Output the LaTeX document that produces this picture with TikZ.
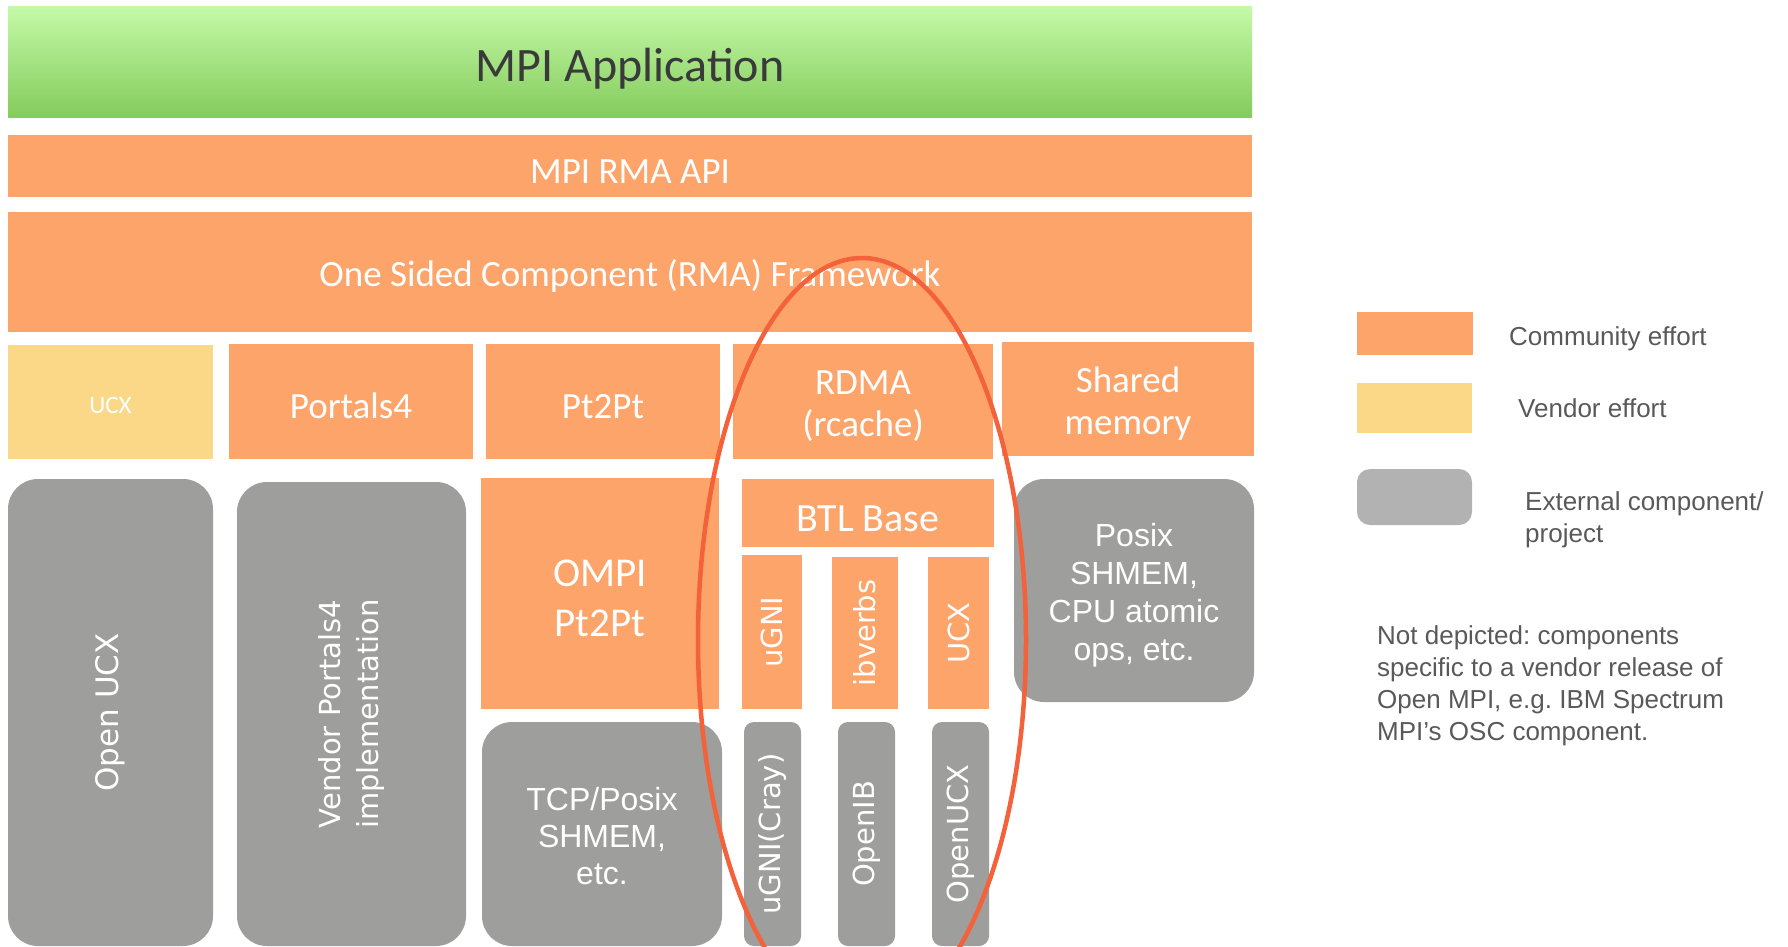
\documentclass[tikz,border=0pt]{standalone}
\usepackage{fontspec}
\newfontfamily\calib{Carlito}
\newfontfamily\verd{DejaVu Sans}
\newfontfamily\arial{Liberation Sans}
\usepackage{xcolor}
\frenchspacing
\definecolor{commorange}{RGB}{253,164,106}
\definecolor{vendyellow}{RGB}{251,216,136}
\definecolor{extgray}{RGB}{158,158,156}
\definecolor{leggray}{RGB}{178,178,178}
\definecolor{apptop}{RGB}{196,250,168}
\definecolor{appbot}{RGB}{132,203,92}
\definecolor{ringred}{RGB}{243,98,58}
\definecolor{legtext}{RGB}{89,89,89}
\definecolor{apptext}{RGB}{58,58,58}

\begin{document}
\begin{tikzpicture}[x=1pt, y=-1pt,
  textdrop/.style={execute at begin node={\rule{0pt}{#1}}},
  comm/.style={rectangle, fill=commorange, text=white, inner sep=0pt, align=center,
    textdrop=0.95em, font=\calib\fontsize{37}{42}\selectfont},
  vend/.style={rectangle, fill=vendyellow, text=white, inner sep=0pt, textdrop=0.96em,
    font=\calib\fontsize{25}{30}\selectfont},
  ext/.style={rectangle, rounded corners=30pt, fill=extgray, text=white, inner sep=0pt,
    align=center, font=\arial\fontsize{32}{37}\selectfont},
  tall/.style={ext, rotate=90, font=\verd\fontsize{29}{38}\selectfont},
  slim/.style={ext, rounded corners=10pt, rotate=90, font=\verd\fontsize{29}{34}\selectfont},
  btl/.style={rectangle, fill=commorange, text=white, inner sep=0pt, rotate=90,
    font=\verd\fontsize{29}{34}\selectfont},
  legtxt/.style={text=legtext, inner sep=0pt, font=\arial\fontsize{26}{32}\selectfont},
  ring/.style={draw=ringred, line width=4.5pt}]
\path[use as bounding box] (0,0) rectangle (1788,946);

% Application and API layers
\node[rectangle, top color=apptop, bottom color=appbot, text=apptext, inner sep=0pt,
  minimum width=1244pt, minimum height=111pt, textdrop=1em,
  font=\calib\fontsize{48}{54}\selectfont] (app) at (630,61.5) {MPI Application};
\node[comm, minimum width=1244pt, minimum height=62pt] (rmaapi) at (630,166) {MPI RMA API};
\node[comm, minimum width=1244pt, minimum height=120pt] (osc) at (630,272)
  {One Sided Component (RMA) Framework};

% OSC components
\node[vend, minimum width=205pt, minimum height=114pt] (ucx) at (110.5,401.5) {UCX};
\node[comm, minimum width=244pt, minimum height=115pt] (portals) at (351,401.5) {Portals4};
\node[comm, minimum width=234pt, minimum height=115pt] (pttopt) at (603,401.5) {Pt2Pt};
\node[comm, minimum width=260pt, minimum height=115pt] (rdma) at (863,401.5)
  {\rule{0pt}{0.9em}RDMA\\(rcache)};
\node[comm, minimum width=252pt, minimum height=114pt] (shmem) at (1128,399)
  {\rule{0pt}{0.95em}Shared\\memory};

% Lower layers
\node[tall, minimum width=467pt, minimum height=205pt, font=\verd\fontsize{31}{38}\selectfont]
  (openucx) at (110.5,712.5) {Open UCX};
\node[tall, minimum width=464pt, minimum height=229pt] (vendor) at (351.5,714)
  {Vendor Portals4\\implementation};
\node[comm, minimum width=238pt, minimum height=231pt, font=\calib\fontsize{41}{50}\selectfont]
  (ompi) at (600,593.5) {\rule{0pt}{0.87em}OMPI\\Pt2Pt};
\node[ext, minimum width=240pt, minimum height=224pt] (tcp) at (602,834)
  {\rule{0pt}{0.87em}TCP/Posix\\SHMEM,\\etc.};
\node[comm, minimum width=252pt, minimum height=68pt, textdrop=0.9em,
  font=\calib\fontsize{40}{46}\selectfont] (btlbase) at (868,513) {BTL Base};
\node[btl, minimum width=154pt, minimum height=60pt] (ugni) at (772,632) {uGNI};
\node[btl, minimum width=152pt, minimum height=66pt] (ibverbs) at (865,633) {ibverbs};
\node[btl, minimum width=152pt, minimum height=61pt] (btlucx) at (958.5,633) {UCX};
\node[slim, minimum width=224pt, minimum height=57pt] (cray) at (772.5,834) {uGNI(Cray)};
\node[slim, minimum width=224pt, minimum height=57pt] (openib) at (866.5,834) {OpenIB};
\node[slim, minimum width=224pt, minimum height=57pt] (ucxlib) at (960.5,834) {OpenUCX};
\node[ext, minimum width=240pt, minimum height=223pt, font=\arial\fontsize{32}{38}\selectfont]
  (posix) at (1134,590.5) {\rule{0pt}{1em}Posix\\SHMEM,\\CPU atomic\\ops, etc.};

% RDMA highlight
\begin{scope}
\clip (0,0) rectangle (1788,946);
\draw[ring] (862,640) ellipse [x radius=164, y radius=382];
\end{scope}

% Legend
\node[rectangle, fill=commorange, inner sep=0pt, minimum width=116pt, minimum height=43pt]
  (keycomm) at (1415,333.5) {};
\node[rectangle, fill=vendyellow, inner sep=0pt, minimum width=115pt, minimum height=50pt]
  (keyvend) at (1414.5,408) {};
\node[rectangle, rounded corners=13pt, fill=leggray, inner sep=0pt, minimum width=115pt,
  minimum height=56pt] (keyext) at (1414.5,497) {};
\node[legtxt, anchor=base west] (labcomm) at (1509,345) {Community effort};
\node[legtxt, anchor=base west] (labvend) at (1518,417) {Vendor effort};
\node[legtxt, anchor=base west, align=left] (labext) at (1525,542) {External component/\\project};
\node[legtxt, anchor=base west, align=left] (note) at (1377,740)
  {Not depicted: components\\specific to a vendor release of\\Open MPI, e.g. IBM Spectrum\\MPI’s OSC component.};
\end{tikzpicture}
\end{document}
